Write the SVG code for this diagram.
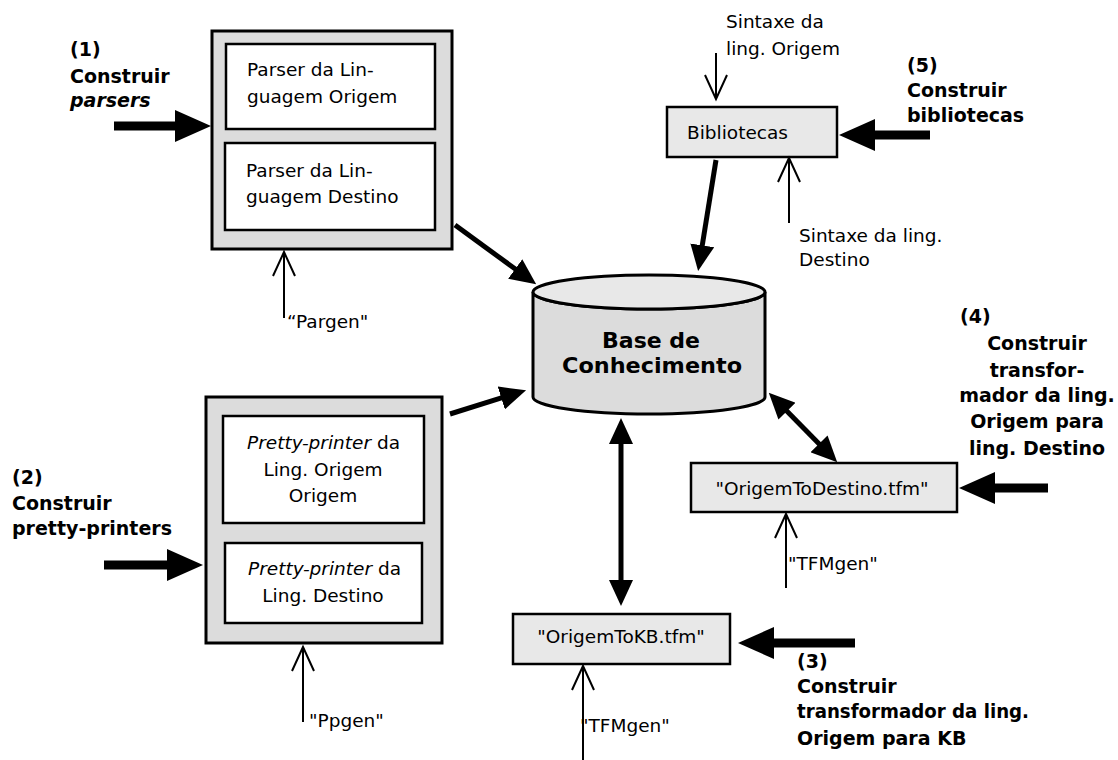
<svg xmlns="http://www.w3.org/2000/svg" width="1118" height="760" viewBox="0 0 1118 760">
<style>
text{fill:#000}
.t{font-family:"DejaVu Sans","Liberation Sans",Arial,sans-serif;font-size:18.5px}
.b{font-family:"DejaVu Sans","Liberation Sans",Arial,sans-serif;font-size:19px;font-weight:bold}
.kb{font-family:"DejaVu Sans","Liberation Sans",Arial,sans-serif;font-size:22px;font-weight:bold}
.outer{fill:#dcdcdc;stroke:#000;stroke-width:3}
.inner{fill:#fff;stroke:#000;stroke-width:2.5}
.proc{fill:#e8e8e8;stroke:#000;stroke-width:2.5}
.big{stroke:#000;stroke-width:9;fill:none}
.med{stroke:#000;stroke-width:5;fill:none}
.thin{stroke:#000;stroke-width:2;fill:none}
</style>
<defs>
<marker id="hbig" viewBox="0 -16 36 32" refX="1" refY="0" markerWidth="36" markerHeight="32" markerUnits="userSpaceOnUse" orient="auto-start-reverse">
<path d="M0,-16 L36,0 L0,16 Z" fill="#000"/>
</marker>
<marker id="hmed" viewBox="0 -12 26 24" refX="1" refY="0" markerWidth="26" markerHeight="24" markerUnits="userSpaceOnUse" orient="auto-start-reverse">
<path d="M0,-12 L26,0 L0,12 Z" fill="#000"/>
</marker>
<marker id="hopen" viewBox="-26 -13 28 26" refX="0" refY="0" markerWidth="28" markerHeight="26" markerUnits="userSpaceOnUse" orient="auto" overflow="visible">
<path d="M-24,-11 L0,0 L-24,11" fill="none" stroke="#000" stroke-width="2"/>
</marker>
</defs>
<rect width="1118" height="760" fill="#fff"/>

<g id="node-parsers">
<rect class="outer" x="212" y="31" width="240" height="218"/>
<rect class="inner" x="226" y="44" width="209" height="85"/>
<rect class="inner" x="225" y="143" width="210" height="87"/>
<text class="t" x="247" y="76">Parser da Lin-</text>
<text class="t" x="247" y="103">guagem Origem</text>
<text class="t" x="246" y="177">Parser da Lin-</text>
<text class="t" x="246" y="203">guagem Destino</text>
</g>

<g id="node-prettyprinters">
<rect class="outer" x="206" y="397" width="236" height="246"/>
<rect class="inner" x="223" y="416" width="201" height="107"/>
<rect class="inner" x="225" y="543" width="197" height="80"/>
<text class="t" x="247" y="449"><tspan font-style="italic">Pretty-printer</tspan> da</text>
<text class="t" x="323" y="476" text-anchor="middle">Ling. Origem</text>
<text class="t" x="323" y="502" text-anchor="middle">Origem</text>
<text class="t" x="248" y="575"><tspan font-style="italic">Pretty-printer</tspan> da</text>
<text class="t" x="323" y="602" text-anchor="middle">Ling. Destino</text>
</g>

<g id="node-kb">
<path d="M533,292 A116,17 0 0 0 765,292 L765,397 A116,17 0 0 1 533,397 Z" fill="#dcdcdc" stroke="#000" stroke-width="3"/>
<ellipse cx="649" cy="292" rx="116" ry="17" fill="#e8e8e8" stroke="#000" stroke-width="3"/>
<text class="kb" x="651" y="348" text-anchor="middle">Base de</text>
<text class="kb" x="652" y="373" text-anchor="middle" textLength="180" lengthAdjust="spacingAndGlyphs">Conhecimento</text>
</g>

<g id="node-bibliotecas">
<rect class="proc" x="667" y="107" width="170" height="50"/>
<text class="t" x="687" y="139">Bibliotecas</text>
</g>

<g id="node-origemtodestino">
<rect class="proc" x="691" y="463" width="266" height="49"/>
<text class="t" x="822" y="495" text-anchor="middle">"OrigemToDestino.tfm"</text>
</g>

<g id="node-origemtokb">
<rect class="proc" x="513" y="614" width="217" height="50"/>
<text class="t" x="621" y="643" text-anchor="middle">"OrigemToKB.tfm"</text>
</g>

<g id="labels">
<text class="b" x="70" y="56">(1)</text>
<text class="b" x="70" y="83">Construir</text>
<text class="b" x="70" y="107" font-style="italic">parsers</text>

<text class="b" x="12" y="484">(2)</text>
<text class="b" x="12" y="510">Construir</text>
<text class="b" x="12" y="535">pretty-printers</text>

<text class="b" x="907" y="72">(5)</text>
<text class="b" x="907" y="97">Construir</text>
<text class="b" x="907" y="122">bibliotecas</text>

<text class="b" x="960" y="323">(4)</text>
<text class="b" x="1037" y="350" text-anchor="middle">Construir</text>
<text class="b" x="1037" y="377" text-anchor="middle">transfor-</text>
<text class="b" x="1037" y="402" text-anchor="middle">mador da ling.</text>
<text class="b" x="1037" y="428" text-anchor="middle">Origem para</text>
<text class="b" x="1037" y="455" text-anchor="middle">ling. Destino</text>

<text class="b" x="797" y="668">(3)</text>
<text class="b" x="797" y="693">Construir</text>
<text class="b" x="797" y="718" textLength="232" lengthAdjust="spacingAndGlyphs">transformador da ling.</text>
<text class="b" x="797" y="745">Origem para KB</text>

<text class="t" x="287" y="328">&#8220;Pargen"</text>
<text class="t" x="309" y="727">"Ppgen"</text>
<text class="t" x="726" y="28">Sintaxe da</text>
<text class="t" x="726" y="55">ling. Origem</text>
<text class="t" x="799" y="242">Sintaxe da ling.</text>
<text class="t" x="799" y="266">Destino</text>
<text class="t" x="788" y="570">"TFMgen"</text>
<text class="t" x="580" y="732">"TFMgen"</text>
</g>

<g id="connectors">
<line class="big" x1="114" y1="126" x2="176" y2="126" marker-end="url(#hbig)"/>
<line class="big" x1="104" y1="565" x2="168" y2="565" marker-end="url(#hbig)"/>
<line class="big" x1="930" y1="135" x2="874" y2="135" marker-end="url(#hbig)"/>
<line class="big" x1="1048" y1="488" x2="994" y2="488" marker-end="url(#hbig)"/>
<line class="big" x1="855" y1="643" x2="773" y2="643" marker-end="url(#hbig)"/>

<line class="med" x1="455" y1="225" x2="516" y2="269.6" marker-end="url(#hmed)"/>
<line class="med" x1="716" y1="160" x2="702.1" y2="246.3" marker-end="url(#hmed)"/>
<line class="med" x1="450" y1="414" x2="502.2" y2="397.7" marker-end="url(#hmed)"/>
<line class="med" x1="621" y1="443" x2="621" y2="581" marker-start="url(#hmed)" marker-end="url(#hmed)"/>
<line class="med" x1="786.3" y1="410.5" x2="819.7" y2="444.5" marker-start="url(#hmed)" marker-end="url(#hmed)"/>

<line class="thin" x1="284" y1="318" x2="284" y2="252" marker-end="url(#hopen)"/>
<line class="thin" x1="303" y1="722" x2="303" y2="647" marker-end="url(#hopen)"/>
<line class="thin" x1="716" y1="53" x2="716" y2="99" marker-end="url(#hopen)"/>
<line class="thin" x1="789" y1="223" x2="789" y2="158" marker-end="url(#hopen)"/>
<line class="thin" x1="786" y1="588" x2="786" y2="514" marker-end="url(#hopen)"/>
<line class="thin" x1="583" y1="760" x2="583" y2="666" marker-end="url(#hopen)"/>
</g>
</svg>
